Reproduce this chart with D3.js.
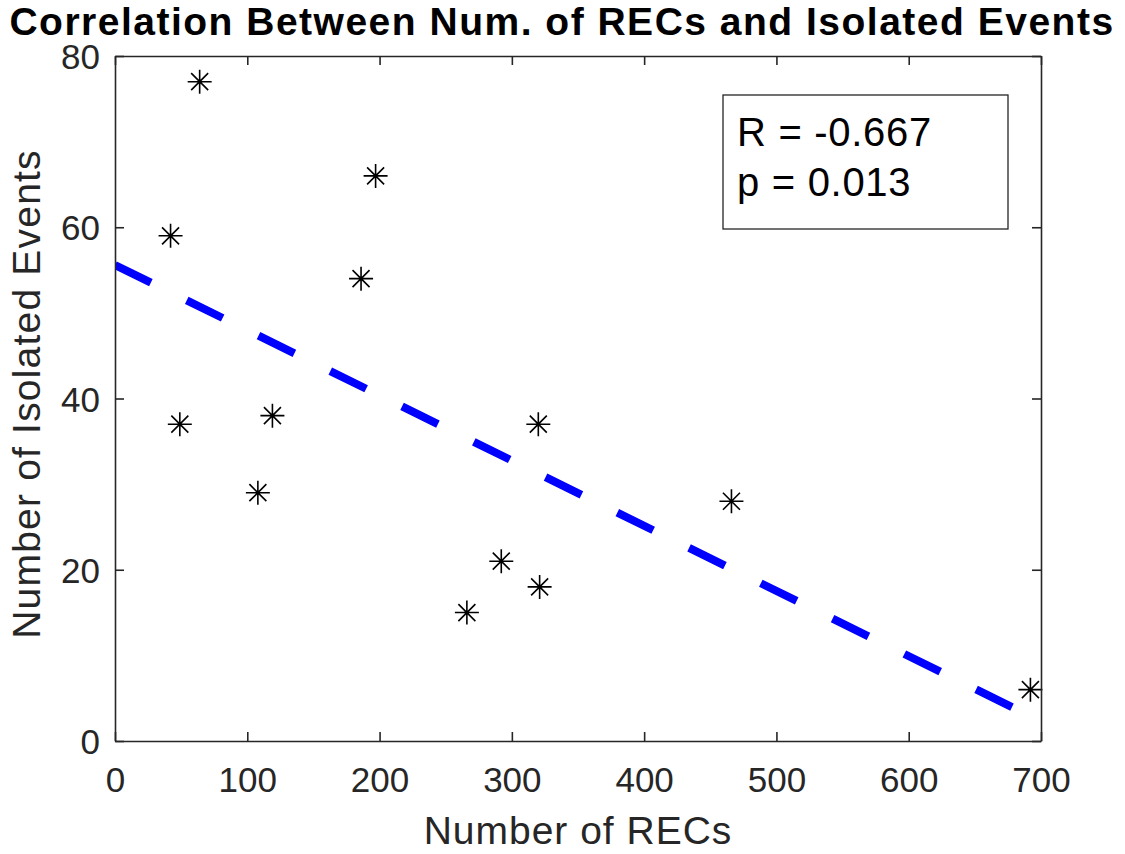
<!DOCTYPE html>
<html>
<head>
<meta charset="utf-8">
<script src="https://cdn.jsdelivr.net/npm/d3@7"></script>
<style>
  html, body { margin: 0; padding: 0; background: #fff; }
  svg { display: block; }
  text { font-family: "Liberation Sans", Arial, Helvetica, sans-serif; }
</style>
</head>
<body>
<svg id="chart" width="1125" height="854"></svg>
<script>
// ---- data ----
const recs      = [64, 42, 49, 108, 119, 186, 197, 266, 292, 321, 320, 466, 692];
const isolated  = [77, 59, 37, 29, 38, 54, 66, 15, 21, 18, 37, 28, 6];
const xTicks    = [0, 100, 200, 300, 400, 500, 600, 700];
const yTicks    = [0, 20, 40, 60, 80];
const xDomain   = [0, 700];
const yDomain   = [0, 80];
const statLines = ["R = -0.667", "p = 0.013"];
const titleText = "Correlation Between Num. of RECs and Isolated Events";
const xLabel    = "Number of RECs";
const yLabel    = "Number of Isolated Events";

// ---- layout ----
const W = 1125, H = 854;
const plot = { left: 115, right: 1041, top: 56, bottom: 741 };
const axisColor = "#262626";

const svg = d3.select("#chart");
const x = d3.scaleLinear().domain(xDomain).range([plot.left, plot.right]);
const y = d3.scaleLinear().domain(yDomain).range([plot.bottom, plot.top]);

// ---- least squares fit line (from data) ----
const mx = d3.mean(recs), my = d3.mean(isolated);
let sxy = 0, sxx = 0;
recs.forEach((v, i) => { sxy += (v - mx) * (isolated[i] - my); sxx += (v - mx) * (v - mx); });
const slope = sxy / sxx, intercept = my - slope * mx;
const fitX = xDomain;

svg.append("defs").append("clipPath").attr("id", "clip")
  .append("rect").attr("x", plot.left).attr("y", plot.top)
  .attr("width", plot.right - plot.left).attr("height", plot.bottom - plot.top);

svg.append("path")
  .attr("clip-path", "url(#clip)")
  .attr("d", d3.line().x(d => x(d)).y(d => y(intercept + slope * d))(fitX))
  .attr("fill", "none")
  .attr("stroke", "#0000ff")
  .attr("stroke-width", 8)
  .attr("stroke-dasharray", "40,40")
  .attr("stroke-linecap", "butt");

// ---- asterisk markers ----
const arm = 12, diag = 8.5;
const star = `M${-arm},0L${arm},0M0,${-arm}L0,${arm}M${-diag},${-diag}L${diag},${diag}M${-diag},${diag}L${diag},${-diag}`;
svg.append("g").selectAll("path").data(recs).join("path")
  .attr("transform", (d, i) => `translate(${x(d)},${y(isolated[i])})`)
  .attr("d", star)
  .attr("fill", "none")
  .attr("stroke", "#000")
  .attr("stroke-width", 1.6);

// ---- axes (box with inward ticks on all sides) ----
const tickLen = 9;
const fmt = d3.format("d");
const gB = svg.append("g").attr("transform", `translate(0,${plot.bottom})`)
  .call(d3.axisBottom(x).tickValues(xTicks).tickFormat(fmt).tickSizeInner(-tickLen).tickSizeOuter(0).tickPadding(27));
const gT = svg.append("g").attr("transform", `translate(0,${plot.top})`)
  .call(d3.axisTop(x).tickValues(xTicks).tickFormat("").tickSizeInner(-tickLen).tickSizeOuter(0));
const gL = svg.append("g").attr("transform", `translate(${plot.left},0)`)
  .call(d3.axisLeft(y).tickValues(yTicks).tickFormat(fmt).tickSizeInner(-tickLen).tickSizeOuter(0).tickPadding(15));
const gR = svg.append("g").attr("transform", `translate(${plot.right},0)`)
  .call(d3.axisRight(y).tickValues(yTicks).tickFormat("").tickSizeInner(-tickLen).tickSizeOuter(0));

[gB, gT, gL, gR].forEach(g => {
  g.select(".domain").attr("stroke", axisColor).attr("stroke-width", 1.6);
  g.selectAll(".tick line").attr("stroke", axisColor).attr("stroke-width", 1.6);
  g.selectAll(".tick text").attr("fill", axisColor)
    .style("font-family", '"Liberation Sans", Arial, sans-serif')
    .style("font-size", "35px");
});
gB.selectAll(".tick text").attr("dy", null).attr("y", null)
  .attr("transform", null).attr("dominant-baseline", "auto")
  .attr("y", 51);
gL.selectAll(".tick text").attr("dy", "0.36em");

// ---- titles / labels ----
svg.append("text")
  .attr("x", (plot.left + plot.right) / 2 - 16).attr("y", 35)
  .attr("text-anchor", "middle")
  .style("font-size", "39px").style("font-weight", "bold")
  .style("letter-spacing", "1.5px")
  .attr("fill", "#000")
  .text(titleText);

svg.append("text")
  .attr("x", (plot.left + plot.right) / 2).attr("y", 844)
  .attr("text-anchor", "middle")
  .style("font-size", "39px")
  .style("letter-spacing", "1px")
  .attr("fill", axisColor)
  .text(xLabel);

svg.append("text")
  .attr("transform", `translate(40,394) rotate(-90)`)
  .attr("text-anchor", "middle")
  .style("font-size", "39px")
  .style("letter-spacing", "1.2px")
  .attr("fill", axisColor)
  .text(yLabel);

// ---- annotation box ----
const box = { x: 723, y: 95, w: 285, h: 134 };
svg.append("rect")
  .attr("x", box.x).attr("y", box.y).attr("width", box.w).attr("height", box.h)
  .attr("fill", "#fff").attr("stroke", axisColor).attr("stroke-width", 1.3);
svg.append("g").selectAll("text").data(statLines).join("text")
  .attr("x", box.x + 14)
  .attr("y", (d, i) => 146 + i * 50)
  .style("font-size", "40px")
  .style("letter-spacing", "0.7px")
  .attr("fill", "#000")
  .text(d => d);
</script>
</body>
</html>
